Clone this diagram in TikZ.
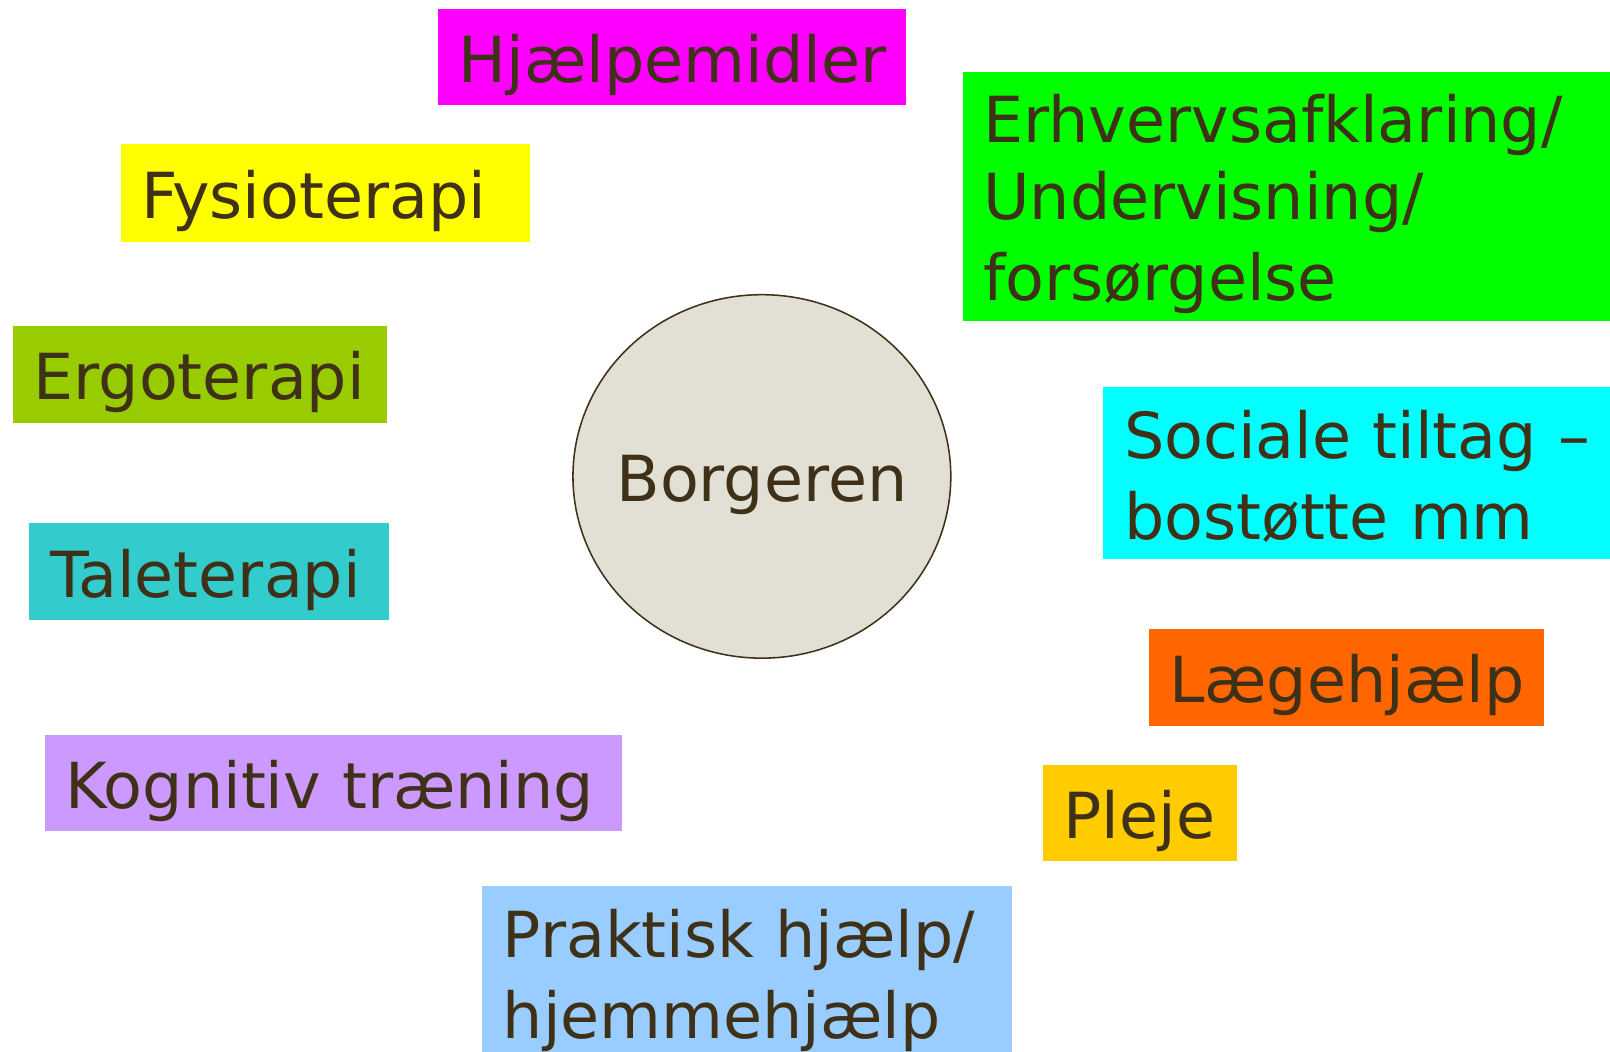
\documentclass[tikz,border=0pt]{standalone}
\usepackage{fontspec}
\setmainfont{DejaVu Sans}
\definecolor{tagtext}{HTML}{3F3118}
\definecolor{borgerfill}{HTML}{E2DFD4}
\definecolor{hjaelpfill}{HTML}{FF00FF}
\definecolor{fysiofill}{HTML}{FFFF00}
\definecolor{erhvervfill}{HTML}{00FF00}
\definecolor{ergofill}{HTML}{99CC00}
\definecolor{socialfill}{HTML}{00FFFF}
\definecolor{talefill}{HTML}{33CCCC}
\definecolor{laegefill}{HTML}{FF6600}
\definecolor{plejefill}{HTML}{FFCC00}
\definecolor{kognitivfill}{HTML}{CC99FF}
\definecolor{praktiskfill}{HTML}{99CCFF}
\newcommand\tagstrut{\rule[-1.25mm]{0pt}{7.5mm}}
\begin{document}
\begin{tikzpicture}[x=0.1mm,y=-0.1mm,
    tag/.style={fill=#1,text=tagtext,align=left,anchor=north west,
      inner xsep=2mm,inner ysep=0pt,
      font=\fontsize{17.6pt}{21.3pt}\selectfont,
      execute at begin node=\tagstrut,execute at end node=\tagstrut},
    borgertext/.style={text=tagtext,inner sep=0pt,
      font=\fontsize{17.6pt}{21.3pt}\selectfont,
      execute at begin node=\tagstrut}]
  \useasboundingbox (0,0) rectangle (1568,1024);
  \coordinate (borgeren) at (742,464);
  \draw[draw=tagtext,line width=0.15mm,fill=borgerfill] (borgeren) ellipse [x radius=18.4mm,y radius=17.7mm];
  \node[borgertext] (borgerlabel) at (borgeren) {Borgeren};
  \node[tag=hjaelpfill,text width=41.6mm,minimum height=9.4mm] (hjaelpemidler) at (426,8) {Hjælpemidler};
  \node[tag=fysiofill,text width=35.8mm,minimum height=9.5mm] (fysioterapi) at (117,140) {Fysioterapi};
  \node[tag=erhvervfill,text width=62.3mm,minimum height=24.3mm] (erhverv) at (937,69) {Erhvervsafklaring/\\Undervisning/\\forsørgelse};
  \node[tag=ergofill,text width=32.4mm,minimum height=9.4mm] (ergoterapi) at (12,317) {Ergoterapi};
  \node[tag=socialfill,text width=52.6mm,minimum height=16.8mm] (sociale) at (1074,376) {Sociale tiltag –\\bostøtte mm};
  \node[tag=talefill,text width=31mm,minimum height=9.4mm] (taleterapi) at (28,509) {Taleterapi};
  \node[tag=laegefill,text width=34.5mm,minimum height=9.4mm] (laegehjaelp) at (1118,612) {Lægehjælp};
  \node[tag=plejefill,text width=14.9mm,minimum height=9.4mm] (pleje) at (1015,744) {Pleje};
  \node[tag=kognitivfill,text width=52.2mm,minimum height=9.4mm] (kognitiv) at (43,715) {Kognitiv træning};
  \node[tag=praktiskfill,text width=47.6mm,minimum height=16.8mm] (praktisk) at (469,862) {Praktisk hjælp/\\hjemmehjælp};
\end{tikzpicture}
\end{document}
